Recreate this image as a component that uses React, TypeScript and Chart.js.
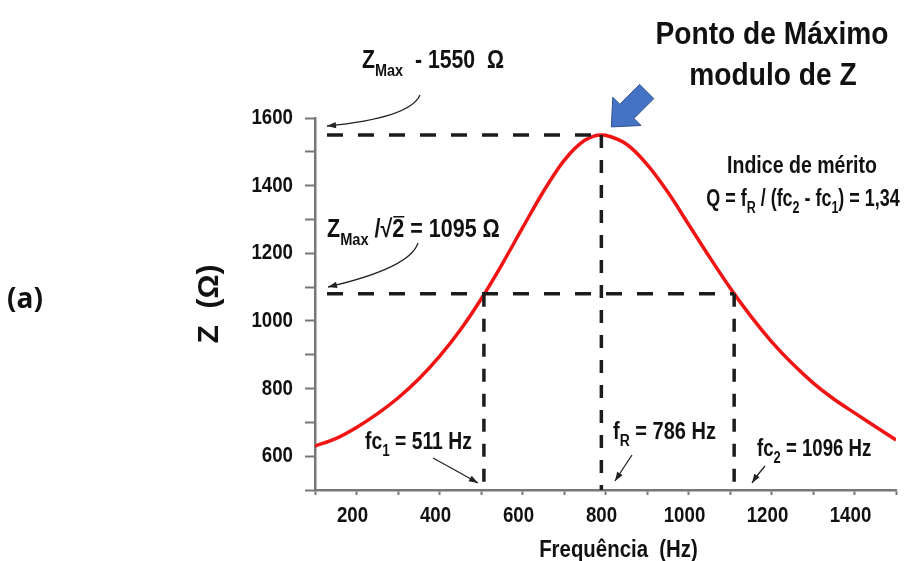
import React, { useEffect, useRef } from 'react';
import { Chart, registerables } from 'chart.js';

Chart.register(...registerables);

// ---- data ----
const frequencyHz = [100, 150, 200, 250, 300, 350, 400, 450, 500, 550, 600, 650, 700, 750, 790, 800, 850, 900, 950, 1000, 1050, 1100, 1150, 1200, 1250, 1300, 1350, 1400, 1450, 1500];
const impedanceOhm = [630, 652, 685, 725, 772, 828, 895, 973, 1064, 1166, 1275, 1382, 1474, 1534, 1550, 1549, 1523, 1463, 1381, 1286, 1190, 1098, 1014, 939, 874, 817, 769, 728, 688, 648];
const xTickLabels = [200, 400, 600, 800, 1000, 1200, 1400];
const yTickLabels = [600, 800, 1000, 1200, 1400, 1600];
const peakFrequency = 790;
const peakImpedance = 1550;
const halfPowerImpedance = 1080;
const cutoffLow = 507;
const cutoffHigh = 1110;

const FONT = '"Liberation Sans", Arial, sans-serif';
const bold = (s: number) => `bold ${s}px ${FONT}`;
const NARROW = 0.85;

type Seg = { t: string; sub?: boolean; over?: boolean };

// draws condensed (Arial‑Narrow‑like) rich text with subscripts
function drawRich(
  ctx: CanvasRenderingContext2D,
  segs: Seg[],
  x: number,
  y: number,
  size: number,
  align: 'left' | 'center' | 'right' = 'left',
  k: number = NARROW,
) {
  const subSize = Math.round(size * 0.68);
  let total = 0;
  const widths = segs.map((s) => {
    ctx.font = bold(s.sub ? subSize : size);
    const w = ctx.measureText(s.t).width * k;
    total += w;
    return w;
  });
  let cx = align === 'center' ? x - total / 2 : align === 'right' ? x - total : x;
  ctx.textAlign = 'left';
  segs.forEach((s, i) => {
    ctx.font = bold(s.sub ? subSize : size);
    const yy = s.sub ? y + size * 0.3 : y;
    ctx.save();
    ctx.translate(cx, yy);
    ctx.scale(k, 1);
    ctx.fillText(s.t, 0, 0);
    ctx.restore();
    if (s.over) ctx.fillRect(cx + 1, y - size * 0.84, widths[i] - 1, 1.5);
    cx += widths[i];
  });
}

function thinArrow(ctx: CanvasRenderingContext2D, x0: number, y0: number, cx: number, cy: number, x1: number, y1: number) {
  ctx.beginPath();
  ctx.moveTo(x0, y0);
  ctx.quadraticCurveTo(cx, cy, x1, y1);
  ctx.stroke();
  const ang = Math.atan2(y1 - cy, x1 - cx);
  const L = 9, W = 3.2;
  ctx.beginPath();
  ctx.moveTo(x1, y1);
  ctx.lineTo(x1 - L * Math.cos(ang) + W * Math.sin(ang), y1 - L * Math.sin(ang) - W * Math.cos(ang));
  ctx.lineTo(x1 - L * Math.cos(ang) - W * Math.sin(ang), y1 - L * Math.sin(ang) + W * Math.cos(ang));
  ctx.closePath();
  ctx.fill();
}

const annotations = {
  id: 'annotations',
  afterDatasetsDraw(chart: any) {
    const { ctx, chartArea } = chart;
    const xs = chart.scales.x;
    const ys = chart.scales.y;
    const px = (v: number) => xs.getPixelForValue(v);
    const py = (v: number) => ys.getPixelForValue(v);
    ctx.save();
    // dashed guide lines
    ctx.strokeStyle = '#1c1c1c';
    ctx.lineWidth = 3.5;
    ctx.setLineDash([16, 15]);
    ctx.beginPath();
    ctx.moveTo(chartArea.left + 12, py(peakImpedance));
    ctx.lineTo(px(peakFrequency), py(peakImpedance));
    ctx.moveTo(chartArea.left + 12, py(halfPowerImpedance));
    ctx.lineTo(px(cutoffHigh), py(halfPowerImpedance));
    ctx.stroke();
    ctx.setLineDash([13, 12]);
    ctx.beginPath();
    ctx.moveTo(px(peakFrequency), py(peakImpedance));
    ctx.lineTo(px(peakFrequency), chartArea.bottom);
    ctx.moveTo(px(cutoffLow), py(halfPowerImpedance));
    ctx.lineTo(px(cutoffLow), chartArea.bottom);
    ctx.moveTo(px(cutoffHigh), py(halfPowerImpedance));
    ctx.lineTo(px(cutoffHigh), chartArea.bottom);
    ctx.stroke();
    ctx.setLineDash([]);

    // blue arrow pointing at the maximum
    const tx = px(peakFrequency) + 10;
    const ty = py(peakImpedance) - 8;
    const d = [Math.SQRT1_2, -Math.SQRT1_2];
    const n = [Math.SQRT1_2, Math.SQRT1_2];
    const pts = [[0, 0], [22, -20], [22, -10], [50, -10], [50, 10], [22, 10], [22, 20]];
    ctx.beginPath();
    pts.forEach(([u, v], i) => {
      const X = tx + u * d[0] + v * n[0];
      const Y = ty + u * d[1] + v * n[1];
      if (i === 0) ctx.moveTo(X, Y); else ctx.lineTo(X, Y);
    });
    ctx.closePath();
    ctx.fillStyle = '#4472C4';
    ctx.fill();
    ctx.strokeStyle = '#2F528F';
    ctx.lineWidth = 1;
    ctx.stroke();

    ctx.fillStyle = '#111';

    // tick labels (condensed)
    ctx.textBaseline = 'middle';
    yTickLabels.forEach((v) => drawRich(ctx, [{ t: String(v) }], chartArea.left - 22, py(v), 22, 'right'));
    ctx.textBaseline = 'top';
    xTickLabels.forEach((v) => drawRich(ctx, [{ t: String(v) }], px(v) - 4, chartArea.bottom + 15, 22, 'center'));
    ctx.textBaseline = 'alphabetic';
    // x axis title
    drawRich(ctx, [{ t: 'Frequência  (Hz)' }], (chartArea.left + chartArea.right) / 2 + 13, 557, 24, 'center');

    // texts
    drawRich(ctx, [{ t: 'Ponto de Máximo' }], 772, 44, 32, 'center', 0.88);
    drawRich(ctx, [{ t: 'modulo de Z' }], 773, 85, 32, 'center', 0.88);
    drawRich(ctx, [{ t: 'Z' }, { t: 'Max', sub: true }, { t: '  - 1550  Ω' }], 362, 68, 25);
    drawRich(ctx, [{ t: 'Indice de mérito' }], 802, 173, 23, 'center');
    drawRich(ctx, [{ t: 'Q = f' }, { t: 'R', sub: true }, { t: ' / (fc' }, { t: '2', sub: true }, { t: ' - fc' }, { t: '1', sub: true }, { t: ') = 1,34' }], 803, 206, 23, 'center', 0.78);
    drawRich(ctx, [{ t: 'Z' }, { t: 'Max', sub: true }, { t: ' /√' }, { t: '2', over: true }, { t: ' = 1095 Ω' }], 327, 237, 25, 'left', 0.86);
    drawRich(ctx, [{ t: 'fc' }, { t: '1', sub: true }, { t: ' = 511 Hz' }], 365, 449, 23, 'left', 0.84);
    drawRich(ctx, [{ t: 'f' }, { t: 'R', sub: true }, { t: ' = 786 Hz' }], 613, 439, 23, 'left', 0.87);
    drawRich(ctx, [{ t: 'fc' }, { t: '2', sub: true }, { t: ' = 1096 Hz' }], 757, 456, 23, 'left', 0.81);
    ctx.font = 'bold 28px "Open Sans", "Liberation Sans", sans-serif';
    ctx.fillText('(a)', 7, 308);

    // thin pointer arrows
    ctx.strokeStyle = '#222';
    ctx.fillStyle = '#222';
    ctx.lineWidth = 1.3;
    thinArrow(ctx, 420, 95, 410, 118, 327, 126);
    thinArrow(ctx, 418, 243, 410, 268, 328, 287);
    thinArrow(ctx, 433, 458, 455, 470, 478, 483);
    thinArrow(ctx, 632, 455, 624, 467, 615, 481);
    thinArrow(ctx, 765, 466, 758, 474, 752, 483);
    ctx.restore();
  },
};

export default function App() {
  const ref = useRef<HTMLCanvasElement>(null);
  useEffect(() => {
    const chart = new Chart(ref.current as HTMLCanvasElement, {
      type: 'line',
      data: {
        datasets: [
          {
            data: frequencyHz.map((f, i) => ({ x: f, y: impedanceOhm[i] })),
            borderColor: '#f01414',
            borderWidth: 3.5,
            pointRadius: 0,
            cubicInterpolationMode: 'monotone',
            fill: false,
          },
        ],
      },
      options: {
        animation: false,
        responsive: false,
        layout: { padding: { left: 190, top: 118, right: 3, bottom: 0 } },
        plugins: { legend: { display: false }, tooltip: { enabled: false } },
        scales: {
          x: {
            type: 'linear',
            min: 100,
            max: 1500,
            afterFit: (s: any) => { s.height = 71; },
            ticks: {
              stepSize: 100,
              autoSkip: false,
              maxRotation: 0,
              padding: 9,
              color: 'rgba(0,0,0,0)',
              font: { family: FONT, weight: 'bold', size: 22 },
              callback: (v: any) => (xTickLabels.includes(Number(v)) ? String(v) : ''),
            },
            grid: { drawOnChartArea: false, tickLength: 5, tickColor: '#777', tickWidth: 2 },
            border: { color: '#777', width: 2.5 },
            title: { display: false },
          },
          y: {
            type: 'linear',
            min: 500,
            max: 1600,
            afterFit: (s: any) => { s.width = 125; },
            ticks: {
              stepSize: 100,
              autoSkip: false,
              padding: 12,
              color: 'rgba(0,0,0,0)',
              font: { family: FONT, weight: 'bold', size: 22 },
              callback: (v: any) => (yTickLabels.includes(Number(v)) ? String(v) : ''),
            },
            grid: { drawOnChartArea: false, tickLength: 10, tickColor: '#777', tickWidth: 2 },
            border: { color: '#777', width: 2.5 },
            title: { display: true, text: 'Z  (Ω)', color: '#111', font: { family: FONT, weight: 'bold', size: 30 }, padding: { top: 2, bottom: 0 } },
          },
        },
      },
      plugins: [annotations],
    } as any);
    return () => chart.destroy();
  }, []);
  return (
    <div style={{ position: 'absolute', left: 0, top: 0, width: 905, height: 561, background: '#fff' }}>
      <canvas ref={ref} width={905} height={561} style={{ display: 'block' }} />
    </div>
  );
}
